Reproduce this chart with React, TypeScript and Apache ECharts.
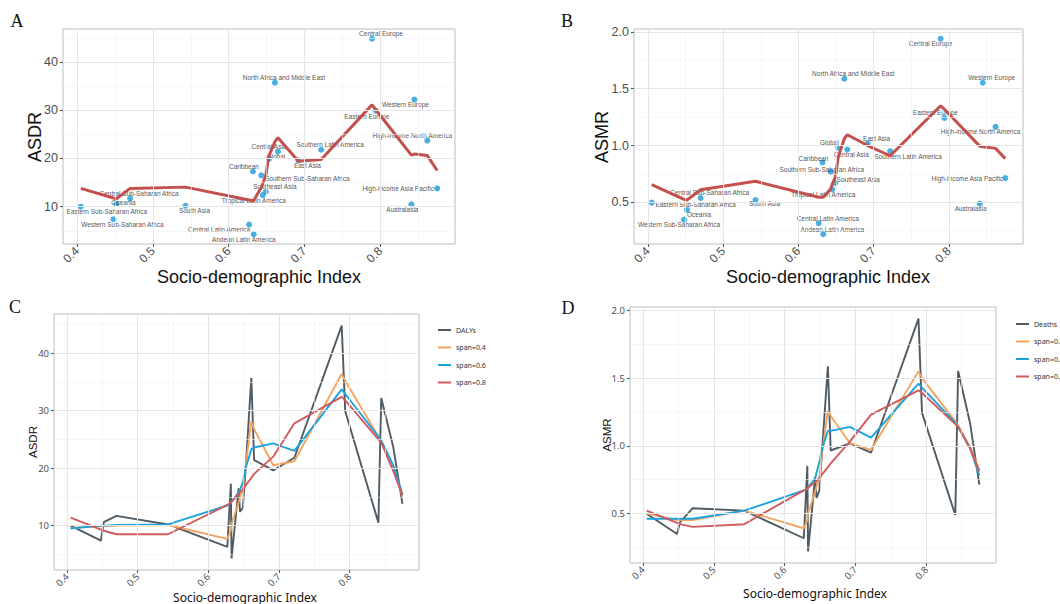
import React, { useEffect, useRef } from "react";
import * as echarts from "echarts";

// ---------- data ----------
const regions = [
  "Eastern Sub-Saharan Africa", "Western Sub-Saharan Africa", "Oceania", "Central Sub-Saharan Africa",
  "South Asia", "Central Latin America", "Caribbean", "Andean Latin America",
  "Southern Sub-Saharan Africa", "Tropical Latin America", "Southeast Asia", "Global",
  "North Africa and Middle East", "Central Asia", "East Asia", "Southern Latin America",
  "Central Europe", "Eastern Europe", "Australasia", "Western Europe",
  "High-income North America", "High-income Asia Pacific",
];
const sdi = [0.405, 0.448, 0.452, 0.470, 0.543, 0.627, 0.632, 0.633, 0.643, 0.645, 0.649, 0.653, 0.661, 0.665, 0.692, 0.722, 0.789, 0.794, 0.841, 0.845, 0.862, 0.875];
const asdr = [10.0, 7.4, 10.6, 11.7, 10.2, 6.3, 17.3, 4.3, 16.5, 12.4, 13.1, 19.9, 35.7, 21.4, 19.6, 21.8, 44.8, 29.9, 10.5, 32.2, 23.7, 13.8];
const asmr = [0.497, 0.348, 0.433, 0.538, 0.52, 0.316, 0.851, 0.219, 0.766, 0.614, 0.669, 0.98, 1.588, 0.965, 1.017, 0.95, 1.94, 1.243, 0.488, 1.553, 1.164, 0.713];

// fitted curves (panel A / B)
const fitAsdr = [13.8, 11.8, 11.65, 13.8, 14.06, 11.4, 11.3, 11.3, 14.0, 14.8, 16.5, 20.5, 23.5, 24.3, 19.4, 19.8, 31.1, 30.1, 20.7, 20.9, 20.6, 17.5];
const fitAsmr = [0.655, 0.525, 0.52, 0.61, 0.685, 0.545, 0.545, 0.545, 0.62, 0.66, 0.72, 0.9, 1.06, 1.095, 1.0, 0.91, 1.35, 1.32, 0.995, 0.99, 0.975, 0.885];

// loess curves (panel C)
const dalySpan04 = [9.6, 9.9, 9.9, 10.0, 10.1, 7.7, 9.2, 10.3, 14.0, 15.0, 16.2, 20.5, 28.2, 26.8, 20.5, 21.2, 36.4, 35.2, 25.5, 24.8, 20.2, 15.1];
const dalySpan06 = [9.5, 10.0, 10.0, 10.1, 10.2, 13.5, 13.9, 14.1, 15.8, 16.3, 17.5, 20.0, 23.3, 23.6, 24.3, 23.0, 33.7, 32.9, 25.5, 24.8, 20.5, 15.5];
const dalySpan08 = [11.4, 9.3, 9.1, 8.5, 8.5, 13.6, 14.0, 14.2, 15.5, 15.8, 16.3, 17.0, 18.3, 19.0, 22.0, 27.8, 32.4, 31.8, 25.0, 24.5, 19.5, 15.3];

// loess curves (panel D)
const deathSpan04 = [0.50, 0.45, 0.45, 0.45, 0.52, 0.39, 0.45, 0.50, 0.66, 0.70, 0.75, 0.95, 1.26, 1.22, 1.02, 0.97, 1.55, 1.50, 1.18, 1.15, 0.99, 0.82];
const deathSpan06 = [0.46, 0.46, 0.46, 0.46, 0.52, 0.67, 0.68, 0.69, 0.76, 0.80, 0.88, 0.98, 1.11, 1.11, 1.14, 1.06, 1.46, 1.43, 1.17, 1.14, 0.98, 0.78];
const deathSpan08 = [0.52, 0.43, 0.42, 0.40, 0.42, 0.67, 0.68, 0.69, 0.73, 0.74, 0.76, 0.79, 0.84, 0.87, 1.03, 1.23, 1.41, 1.39, 1.16, 1.14, 0.98, 0.81];

// ticks
const xMajor = [0.4, 0.5, 0.6, 0.7, 0.8];
const xMinor = [0.45, 0.55, 0.65, 0.75, 0.85];
const yMajorRate = [10, 20, 30, 40];
const yMinorRate = [5, 15, 25, 35, 45];
const yMajorMort = [0.5, 1.0, 1.5, 2.0];
const yMinorMort = [0.25, 0.75, 1.25, 1.75];

// ---------- label placement (pixel offsets from dot) ----------
const offA: Record<string, [number, number]> = {
  "Central Europe": [9, -5], "North Africa and Middle East": [9, -5], "Western Europe": [-9, 5],
  "Eastern Europe": [-9, 6], "High-income North America": [-15, -5], "Southern Latin America": [9, -5],
  "Central Asia": [-9, -5], "Global": [7, -2], "East Asia": [9, 5], "Caribbean": [-9, -5],
  "Southern Sub-Saharan Africa": [46, 3], "Southeast Asia": [9, -5], "Tropical Latin America": [-9, 5],
  "High-income Asia Pacific": [-39, 0], "Central Sub-Saharan Africa": [9, -5], "Oceania": [7, -1],
  "Eastern Sub-Saharan Africa": [26, 5], "South Asia": [9, 5], "Western Sub-Saharan Africa": [9, 5],
  "Australasia": [-9, 5], "Central Latin America": [-30, 5], "Andean Latin America": [-10, 5],
};
const offB: Record<string, [number, number]> = {
  "Central Europe": [-10, 5], "North Africa and Middle East": [9, -5], "Western Europe": [9, -5],
  "Eastern Europe": [-9, -5], "High-income North America": [-15, 5], "East Asia": [9, -5],
  "Global": [-9, -5], "Central Asia": [4, 5], "Southern Latin America": [18, 5], "Caribbean": [-9, -4],
  "Southern Sub-Saharan Africa": [-9, -3], "Southeast Asia": [23, -4], "Tropical Latin America": [-9, 5],
  "High-income Asia Pacific": [-38, 0], "Australasia": [-9, 5], "Central Sub-Saharan Africa": [9, -5],
  "Eastern Sub-Saharan Africa": [44, 2], "Oceania": [12, 5], "Western Sub-Saharan Africa": [-5, 5],
  "South Asia": [9, 3], "Central Latin America": [9, -5], "Andean Latin America": [9, -5],
};

const SANS = "'Liberation Sans', Arial, sans-serif";
const NOTO = "'Noto Sans', 'Liberation Sans', sans-serif";
const SERIF = "'Liberation Serif', 'Times New Roman', serif";
const DOT = "#1A9BD7";
const FIT = "#C4504E";
const GREY = "#4F5A62";
const ORANGE = "#F2A35E";
const BLUE = "#1BA3DC";
const RED = "#D05A5E";

const pad = (arr: number[]) => {
  const mn = Math.min(...arr), mx = Math.max(...arr), r = mx - mn;
  return [mn - 0.05 * r, mx + 0.05 * r];
};

export default function App() {
  const ref = useRef<HTMLDivElement>(null);
  useEffect(() => {
    if (!ref.current) return;
    const chart = echarts.init(ref.current, undefined, { renderer: "svg" });
    const [xmin, xmax] = pad(sdi);
    const [r0, r1] = pad(asdr);
    const [m0, m1] = pad(asmr);
    const pairs = (ys: number[]) => sdi.map((x, i) => [x, ys[i]]);
    const pts = (ys: number[], off: Record<string, [number, number]>) =>
      regions.map((r, i) => ({ name: r, value: [sdi[i], ys[i]], label: { offset: off[r] || [0, -8] } }));

    const big = (n: number) => n === 0 || n === 1;
    const fs = (n: number) => (big(n) ? 12.5 : 9.5);
    const ff = (n: number) => (big(n) ? SANS : NOTO);
    const xAxes = [0, 1, 2, 3].map((n) => ({
      type: "value", gridIndex: n, min: xmin, max: xmax,
      axisLine: { show: false },
      axisTick: { show: true, length: 3, lineStyle: { color: "#555" }, customValues: xMajor },
      splitLine: { show: false },
      axisLabel: {
        rotate: 45, margin: 5, fontSize: big(n) ? 12 : 9.5, color: "#4d4d4d", fontFamily: ff(n),
        customValues: xMajor, formatter: (v: number) => v.toFixed(1),
      },
    }));
    const yAxes = [0, 1, 2, 3].map((n) => {
      const rate = n === 0 || n === 2;
      return {
        type: "value", gridIndex: n, min: rate ? r0 : m0, max: rate ? r1 : m1,
        axisLine: { show: false },
        axisTick: { show: true, length: 3, lineStyle: { color: "#555" }, customValues: rate ? yMajorRate : yMajorMort },
        splitLine: { show: false },
        axisLabel: {
          margin: 5, fontSize: fs(n), color: "#4d4d4d", fontFamily: ff(n),
          customValues: rate ? yMajorRate : yMajorMort,
          formatter: (v: number) => (rate ? String(Math.round(v)) : v.toFixed(1)),
        },
      };
    });

    const gridSeries = (n: number) => {
      const rate = n === 0 || n === 2;
      const line = (key: string, v: number, major: boolean) => ({
        [key]: v,
        lineStyle: { color: major ? "#E6E6E6" : "#F1F1F1", width: major ? 1 : 0.6, type: "solid" },
      });
      return {
        type: "line", xAxisIndex: n, yAxisIndex: n, data: [], z: 1, silent: true,
        markLine: {
          silent: true, symbol: "none", label: { show: false }, animation: false,
          data: [
            ...xMinor.map((v) => line("xAxis", v, false)),
            ...(rate ? yMinorRate : yMinorMort).map((v) => line("yAxis", v, false)),
            ...xMajor.map((v) => line("xAxis", v, true)),
            ...(rate ? yMajorRate : yMajorMort).map((v) => line("yAxis", v, true)),
          ],
        },
      };
    };

    const scatter = (n: number, ys: number[], off: Record<string, [number, number]>) => ({
      type: "scatter", xAxisIndex: n, yAxisIndex: n, z: 2, symbolSize: 6,
      itemStyle: { color: DOT },
      label: { show: true, position: "inside", formatter: "{b}", fontSize: 6.5, color: "#1a1a1a", fontFamily: SANS },
      data: pts(ys, off),
    });
    const fit = (n: number, ys: number[]) => ({
      type: "line", xAxisIndex: n, yAxisIndex: n, z: 3, symbol: "none",
      lineStyle: { color: FIT, width: 3 }, data: pairs(ys),
    });
    const curve = (n: number, name: string, ys: number[], color: string) => ({
      type: "line", name, xAxisIndex: n, yAxisIndex: n, z: 3, symbol: "none",
      itemStyle: { color }, lineStyle: { color, width: 1.9 }, data: pairs(ys),
    });

    const txt = (text: string, x: number, y: number, size: number, font: string, rot = 0) => ({
      type: "text", x, y, rotation: rot,
      style: { text, fontSize: size, fontFamily: font, fill: "#111", align: "center", verticalAlign: "middle" },
    });

    const legendBase = {
      orient: "vertical", itemWidth: 13, itemHeight: 10, itemGap: 9.5, selectedMode: false,
      itemStyle: { opacity: 0, color: "rgba(0,0,0,0)", borderWidth: 0 },
      lineStyle: { width: 2 },
      textStyle: { fontSize: 7, color: "#333", fontFamily: NOTO },
    };

    chart.setOption({
      animation: false,
      grid: [
        { left: 63, top: 29, width: 392, height: 215, show: true, borderColor: "#BDBDBD", borderWidth: 1 },
        { left: 634, top: 29, width: 389, height: 215, show: true, borderColor: "#BDBDBD", borderWidth: 1 },
        { left: 54, top: 314, width: 365, height: 256, show: true, borderColor: "#BDBDBD", borderWidth: 1 },
        { left: 630, top: 307, width: 366, height: 256, show: true, borderColor: "#BDBDBD", borderWidth: 1 },
      ],
      xAxis: xAxes,
      yAxis: yAxes,
      legend: [
        { ...legendBase, left: 432, top: 321, data: ["DALYs", "span=0.4", "span=0.6", "span=0.8"] },
        { ...legendBase, left: 1010, top: 315, data: ["Deaths", "span=0.4", "span=0.6", "span=0.8"] },
      ],
      series: [
        gridSeries(0), gridSeries(1), gridSeries(2), gridSeries(3),
        scatter(0, asdr, offA), fit(0, fitAsdr),
        scatter(1, asmr, offB), fit(1, fitAsmr),
        curve(2, "DALYs", asdr, GREY), curve(2, "span=0.4", dalySpan04, ORANGE),
        curve(2, "span=0.6", dalySpan06, BLUE), curve(2, "span=0.8", dalySpan08, RED),
        curve(3, "Deaths", asmr, GREY), curve(3, "span=0.4", deathSpan04, ORANGE),
        curve(3, "span=0.6", deathSpan06, BLUE), curve(3, "span=0.8", deathSpan08, RED),
      ],
      graphic: [
        txt("A", 17, 21, 18, SERIF), txt("B", 567, 21, 18, SERIF),
        txt("C", 15, 307, 18, SERIF), txt("D", 568, 308, 18, SERIF),
        txt("Socio-demographic Index", 259, 277, 18, SANS),
        txt("ASDR", 35, 137, 18, SANS, Math.PI / 2),
        txt("Socio-demographic Index", 828, 277, 18, SANS),
        txt("ASMR", 602, 137, 18, SANS, Math.PI / 2),
        txt("Socio-demographic Index", 245, 597, 12, NOTO),
        txt("ASDR", 33, 442, 11.5, SANS, Math.PI / 2),
        txt("Socio-demographic Index", 815, 593, 12, NOTO),
        txt("ASMR", 607, 435, 11.5, SANS, Math.PI / 2),
      ],
    });
    return () => chart.dispose();
  }, []);
  return <div ref={ref} style={{ position: "absolute", left: 0, top: 0, width: 1060, height: 604, background: "#fff" }} />;
}
